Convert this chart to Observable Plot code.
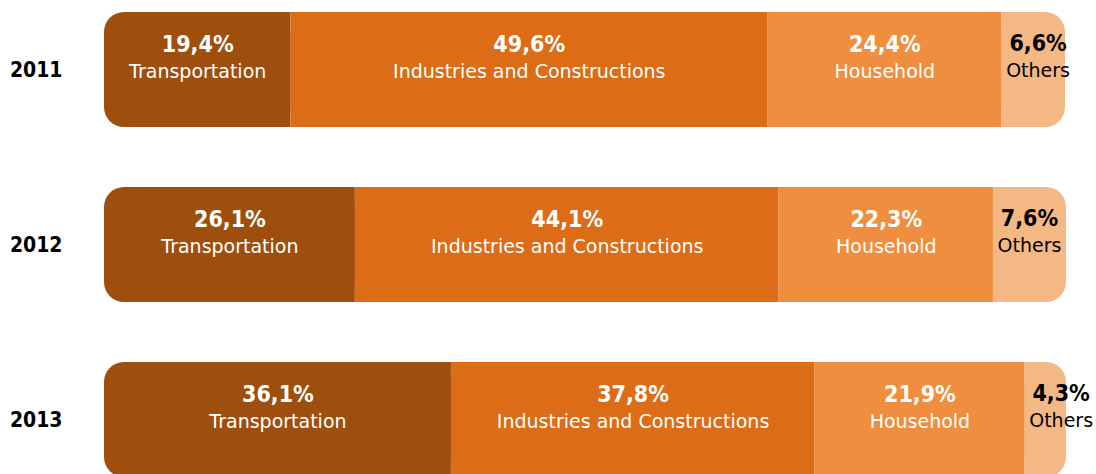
<!DOCTYPE html>
<html>
<head>
<meta charset="utf-8">
<script src="https://cdn.jsdelivr.net/npm/d3@7"></script>
<script src="https://cdn.jsdelivr.net/npm/@observablehq/plot@0.6"></script>
<style>
  html, body { margin: 0; padding: 0; background: #fff; overflow: hidden; }
  #chart svg { display: block; }
  .cond { font-family: 'DejaVu Sans Condensed', 'DejaVu Sans', sans-serif; font-stretch: condensed; }
</style>
</head>
<body>
<div id="chart"></div>
<script>
// ---- Data ----
const years = ["2011", "2012", "2013"];
const categories = ["Transportation", "Industries and Constructions", "Household", "Others"];
const transportation = [19.4, 26.1, 36.1];
const industries = [49.6, 44.1, 37.8];
const household = [24.4, 22.3, 21.9];
const others = [6.6, 7.6, 4.3];
const colors = ["#9e4f0e", "#dc6c16", "#ef8e3e", "#f4b885"];

const series = [transportation, industries, household, others];
const fmt = v => v.toFixed(1).replace(".", ",") + "%";

const rows = [];
years.forEach((yr, i) => {
  let acc = 0;
  series.forEach((s, j) => {
    rows.push({year: yr, category: categories[j], value: s[i], x1: acc, x2: acc + s[i], idx: j, pct: fmt(s[i])});
    acc += s[i];
  });
});
const last = categories.length - 1;
const firsts = rows.filter(d => d.idx === 0);
const lasts = rows.filter(d => d.idx === last);
// square-cornered pieces that cover the inner corners of the rounded end pieces
const squares = rows.map(d =>
  d.idx === 0 ? {...d, x1: (d.x1 + d.x2) / 2} :
  d.idx === last ? {...d, x2: (d.x1 + d.x2) / 2} : d);
const inner = rows.filter(d => d.idx !== last);

const font = "'DejaVu Sans', sans-serif";

const chart = Plot.plot({
  width: 1096,
  height: 480,
  marginLeft: 104,
  marginRight: 31,
  marginTop: 0,
  marginBottom: 0,
  style: {fontFamily: font, background: "#fff"},
  x: {domain: [0, 100], axis: null},
  y: {domain: years, range: [11, 479], paddingInner: 0.34, paddingOuter: 0, axis: null},
  color: {domain: categories, range: colors},
  marks: [
    Plot.barX(firsts, {x1: "x1", x2: "x2", y: "year", fill: "category", rx: 20}),
    Plot.barX(lasts, {x1: "x1", x2: "x2", y: "year", fill: "category", rx: 20}),
    Plot.barX(squares, {x1: "x1", x2: "x2", y: "year", fill: "category"}),
    Plot.text(inner, {x: d => (d.x1 + d.x2) / 2, y: "year", text: "pct", fill: "white", fontWeight: "bold", fontSize: 23, dy: -25, className: "cond"}),
    Plot.text(inner, {x: d => (d.x1 + d.x2) / 2, y: "year", text: "category", fill: "white", fontSize: 19, dy: 2}),
    Plot.text(lasts, {x: "x1", y: "year", text: "pct", fill: "black", fontWeight: "bold", fontSize: 23, dx: 36, dy: -26, className: "cond"}),
    Plot.text(lasts, {x: "x1", y: "year", text: "category", fill: "black", fontSize: 19, dx: 36, dy: 1}),
    Plot.text(years, {y: d => d, text: d => d, frameAnchor: "left", textAnchor: "end", dx: -42, fill: "black", fontWeight: "bold", fontSize: 21, className: "cond"})
  ]
});
document.getElementById("chart").appendChild(chart);
</script>
</body>
</html>
